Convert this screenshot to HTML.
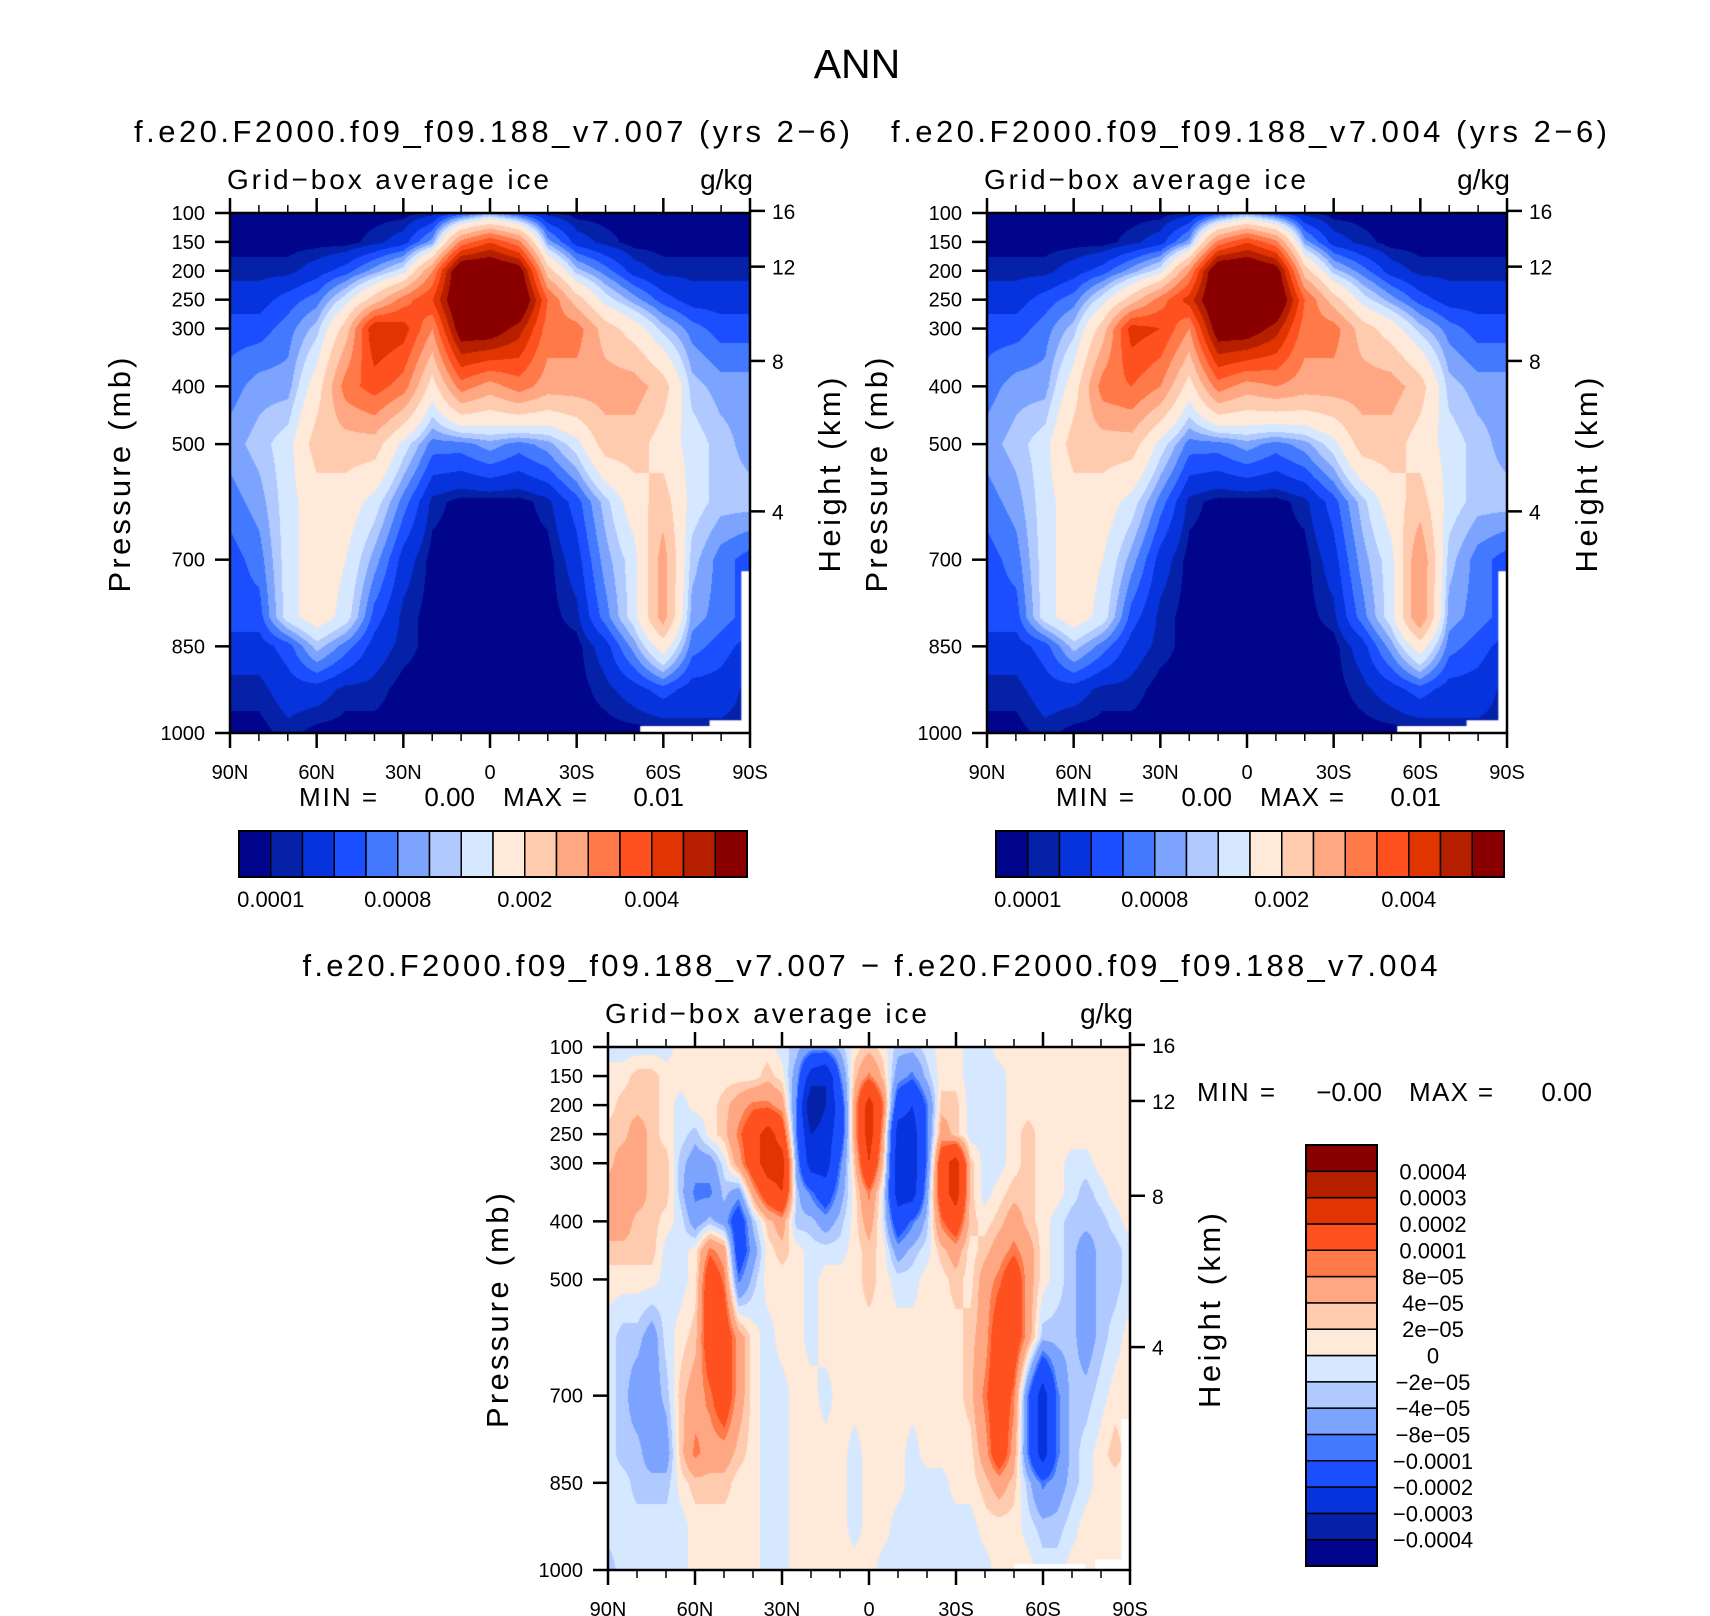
<!DOCTYPE html>
<html><head><meta charset="utf-8">
<style>
html,body{margin:0;padding:0;background:#fff;}
#wrap{position:relative;width:1710px;height:1616px;overflow:hidden;}
canvas{position:absolute;}
svg{position:absolute;left:0;top:0;}
text{font-family:"Liberation Sans",sans-serif;fill:#000;}
</style></head><body>
<div id="wrap">
<canvas id="c1" width="520" height="520" style="left:230px;top:213px"></canvas>
<canvas id="c2" width="520" height="520" style="left:987px;top:213px"></canvas>
<canvas id="c3" width="522" height="523" style="left:608px;top:1047px"></canvas>
<svg id="s" width="1710" height="1616"></svg>
</div>
<script>
// ---- data ----
const pLevels = [100,150,200,250,300,400,500,600,700,800,850,925,1000];
const lats10 = [90,80,70,60,50,40,30,20,10,0,-10,-20,-30,-40,-50,-60,-70,-80,-90];
// panel 1 values (units 1e-4 g/kg)
const ice007 = [
[0.5,0.5,0.5,0.5,0.5,0.5,0.5,1.5,5,9,5,1.5,0.5,0.5,0.5,0.5,0.5,0.5,0.5],
[0.5,0.5,0.5,0.5,0.5,1.5,3,9,32,40,32,9,3,1.5,0.5,0.5,0.5,0.5,0.5],
[1.5,1.5,1.5,3,5,9,13.5,30,60,60,55,22.5,11,7,3,1.5,1.5,1.5,1.5],
[3,3,5,7,13.5,22.5,32.5,40,60,60,60,35,22.5,13.5,9,5,3,3,3],
[5,5,7,11,22.5,45,42.5,30,55,55,47.5,32.5,32.5,22.5,17.5,11,7,5,5],
[7,9,9,17.5,32.5,37.5,32.5,17.5,32.5,27.5,32.5,27.5,27.5,27.5,27.5,22.5,11,9,9],
[9,11,13.5,22.5,22.5,22.5,13.5,7,7,9,7,9,13.5,22.5,22.5,17.5,13.5,11,9],
[7,9,13.5,17.5,17.5,13.5,7,1.5,0.5,0.5,0.5,1.5,5,11,17.5,22.5,13.5,11,11],
[5,7,13.5,17.5,15,9,3,0.5,0.5,0.5,0.5,0.5,3,9,13.5,27.5,11,7,5],
[5,5,13.5,17.5,13.5,5,1.5,0.5,0.5,0.5,0.5,0.5,1.5,7,13.5,27.5,9,7,5],
[3,3,5,11,7,3,1.5,0.5,0.5,0.5,0.5,0.5,0.5,3,9,17.5,7,5,3],
[1.5,1.5,3,3,1.5,1.5,0.5,0.5,0.5,0.5,0.5,0.5,0.5,1.5,3,5,3,3,1.5],
[0.5,0.5,1.5,0.5,0.5,0.5,0.5,0.5,0.5,0.5,0.5,0.5,0.5,0.5,0.5,0.5,1.5,1.5,1.5]];
// panel 2 values (units 1e-4 g/kg)
const ice004 = [
[0.5,0.5,0.5,0.5,0.5,0.5,0.5,1.5,5,9,5,1.5,0.5,0.5,0.5,0.5,0.5,0.5,0.5],
[0.5,0.5,0.5,0.5,0.5,1.5,3,9,32,40,32,9,3,1.5,0.5,0.5,0.5,0.5,0.5],
[1.5,1.5,1.5,3,5,9,13.5,30,60,60,55,22.5,11,7,3,1.5,1.5,1.5,1.5],
[3,3,5,7,13.5,22.5,32.5,42.5,60,60,60,35,22.5,13.5,9,5,3,3,3],
[5,5,7,11,22.5,42.5,40,30,55,55,47.5,32.5,32.5,22.5,17.5,11,7,5,5],
[7,9,9,17.5,32.5,35,30,17.5,32.5,27.5,30,27.5,27.5,27.5,27.5,22.5,11,9,9],
[9,11,13.5,22.5,22.5,22.5,13.5,7,7,9,7,9,13.5,22.5,22.5,17.5,13.5,11,9],
[7,9,13.5,17.5,17.5,13.5,7,1.5,0.5,0.5,0.5,1.5,5,11,17.5,22.5,13.5,11,11],
[5,7,13.5,17.5,15,9,3,0.5,0.5,0.5,0.5,0.5,3,9,13.5,30,11,7,5],
[5,5,13.5,17.5,13.5,5,1.5,0.5,0.5,0.5,0.5,0.5,1.5,7,13.5,30,9,7,5],
[3,3,5,11,7,3,1.5,0.5,0.5,0.5,0.5,0.5,0.5,3,9,17.5,7,5,3],
[1.5,1.5,3,3,1.5,1.5,0.5,0.5,0.5,0.5,0.5,0.5,0.5,1.5,3,5,3,3,1.5],
[0.5,0.5,1.5,0.5,0.5,0.5,0.5,0.5,0.5,0.5,0.5,0.5,0.5,0.5,0.5,0.5,1.5,1.5,1.5]];
const levels1 = [0.0001,0.0002,0.0004,0.0006,0.0008,0.001,0.0012,0.0015,0.002,0.0025,0.003,0.0035,0.004,0.0045,0.005];
const cbLabels1 = ["0.0001","0.0008","0.002","0.004"];
const cbLabelIdx1 = [0,4,8,12];
// difference panel (units 1e-5 g/kg)
const pDiff = [100,150,200,250,300,350,400,450,500,600,700,800,850,925,1000];
const lats5 = [90,85,80,75,70,65,60,55,50,45,40,35,30,25,20,15,10,5,0,-5,-10,-15,-20,-25,-30,-35,-40,-45,-50,-55,-60,-65,-70,-75,-80,-85,-90];
const diff = [
[-1,-1,-1,-1,-1,1,1,1,1,1,1,1,-1,-3,-6,-6,-3,1,3,1,-3,-3,-1,1,1,-1,-1,1,1,1,1,1,1,1,1,1,1],
[1,1,3,3,1,1,1,1,1,1,1,3,1,-6,-25,-30,-9,3,9,3,-6,-9,-3,1,1,-1,-1,-1,1,1,1,1,1,1,1,1,1],
[1,3,3,3,1,-1,1,1,3,6,9,9,6,-9,-40,-30,-15,6,25,9,-15,-20,-9,3,3,-1,-1,-1,1,1,1,1,1,1,1,1,1],
[3,3,6,3,1,-1,-3,1,3,9,15,25,15,-9,-30,-25,-15,6,25,6,-25,-25,-9,6,3,-1,-1,-1,1,3,1,1,1,1,1,1,1],
[3,6,6,3,3,-3,-6,-6,-1,6,15,25,25,-6,-25,-25,-9,3,20,3,-25,-25,-9,15,25,3,-1,-1,1,3,1,1,-1,-1,1,1,1],
[6,6,6,3,3,-3,-9,-9,-3,-6,6,15,20,-3,-9,-15,-6,1,9,-1,-25,-25,-6,15,25,3,-1,1,3,3,1,1,-1,-3,-1,1,1],
[6,6,3,3,1,-1,-6,-3,-6,-15,-3,3,6,-3,-3,-6,-3,1,6,-1,-15,-9,-3,9,15,3,1,3,6,3,1,-1,-3,-3,-3,-1,1],
[3,3,3,3,-1,-1,1,9,6,-15,-6,1,3,1,-1,-1,-1,1,3,1,-6,-3,-1,3,6,1,3,6,9,6,1,-1,-3,-6,-3,-3,-1],
[1,1,1,1,-1,-1,1,15,9,-9,-3,1,1,1,-1,1,1,1,3,1,-1,-1,1,1,3,1,6,9,15,6,1,-1,-3,-6,-3,-3,-1],
[-1,-3,-3,-6,-1,1,3,15,15,6,1,-1,1,1,-1,1,1,1,1,1,1,1,1,1,1,3,6,15,15,6,-3,-3,-3,-6,-3,-1,1],
[-1,-3,-6,-6,-3,3,6,9,15,6,1,-1,-1,1,1,-1,1,1,1,1,1,1,1,1,1,3,9,15,9,-9,-25,-9,-3,-3,-1,1,1],
[-1,-3,-3,-6,-6,3,9,6,6,3,1,-1,-1,1,1,1,1,-1,1,1,1,-1,1,1,1,1,6,15,6,-9,-25,-9,-3,-1,1,3,1],
[-1,-1,-3,-3,-3,1,3,3,3,1,1,-1,-1,1,1,1,1,-1,1,1,1,-1,-1,-1,1,1,3,6,3,-3,-9,-6,-3,-1,1,1,1],
[-1,-1,-1,-1,-1,-1,1,1,1,1,1,-1,-1,1,1,1,1,-1,1,1,-1,-1,-1,-1,-1,-1,1,1,1,-1,-3,-3,-1,1,1,1,1],
[-3,-1,-1,-1,-1,-1,1,1,1,1,1,-1,-1,1,1,1,1,1,1,-1,-1,-1,-1,-1,-1,-1,-1,1,1,1,-1,-1,1,1,1,1,1]];
const levels3 = [-0.0004,-0.0003,-0.0002,-0.0001,-8e-5,-4e-5,-2e-5,0,2e-5,4e-5,8e-5,0.0001,0.0002,0.0003,0.0004];
const cbLabels3 = ["-0.0004","-0.0003","-0.0002","-0.0001","-8e-05","-4e-05","-2e-05","0","2e-05","4e-05","8e-05","0.0001","0.0002","0.0003","0.0004"];
const pTicks = [100,150,200,250,300,400,500,700,850,1000];
const hTicks = [16,12,8,4];
const xLabels = ["90N","60N","30N","0","30S","60S","90S"];
const xLabelLats = [90,60,30,0,-30,-60,-90];
const colors = ["#00058C","#0421A8","#0633DC","#1B4EFF","#4279FF","#7CA4FF","#B0C9FF","#D6E8FF","#FFE9D8","#FFCBAF","#FFA782","#FF7949","#FF5020","#E03500","#B51F00","#8A0000"];

// ---- rendering ----
const NS="http://www.w3.org/2000/svg";
const svg=document.getElementById('s');
function hex(c){return [parseInt(c.slice(1,3),16),parseInt(c.slice(3,5),16),parseInt(c.slice(5,7),16)];}
const rgb=colors.map(hex);
function levelIdx(v,lv){let i=0;while(i<lv.length&&v>=lv[i])i++;return i;}
function interp(grid,pAxis,lats,lat,p,scale){
  let ci=(lats[0]-lat)/(lats[0]-lats[lats.length-1])*(lats.length-1);
  ci=Math.max(0,Math.min(lats.length-1.0001,ci));
  const c0=Math.floor(ci),fc=ci-c0;
  let r0=0;while(r0<pAxis.length-2&&p>pAxis[r0+1])r0++;
  let fr=(p-pAxis[r0])/(pAxis[r0+1]-pAxis[r0]);fr=Math.max(0,Math.min(1,fr));
  const g=(r,c)=>(grid[r]&&grid[r][c]!==undefined)?grid[r][c]:0;
  const a=g(r0,c0)*(1-fc)+g(r0,c0+1)*fc, b=g(r0+1,c0)*(1-fc)+g(r0+1,c0+1)*fc;
  return (a*(1-fr)+b*fr)*scale;
}
function drawField(id,grid,pAxis,lats,scale,lv){
  const cv=document.getElementById(id),ctx=cv.getContext('2d');
  const W=cv.width,H=cv.height,img=ctx.createImageData(W,H);
  for(let y=0;y<H;y++){const p=100+900*y/(H-1);
    for(let x=0;x<W;x++){const lat=90-180*x/(W-1);
      const v=interp(grid,pAxis,lats,lat,p,scale);const c=rgb[levelIdx(v,lv)];const k=(y*W+x)*4;
      img.data[k]=c[0];img.data[k+1]=c[1];img.data[k+2]=c[2];img.data[k+3]=255;}}
  ctx.putImageData(img,0,0);
}
drawField('c1',ice007,pLevels,lats10,1e-4,levels1);
drawField('c2',ice004,pLevels,lats10,1e-4,levels1);
drawField('c3',diff,pDiff,lats5,1e-5,levels3);
// below-ground white masks
(function(){
 const m=[['c1',[[-52,-76,988],[-76,-90,978],[-87,-90,720]]],['c2',[[-52,-76,988],[-76,-90,978],[-87,-90,720]]],['c3',[[-50,-74,990],[-78,-90,982],[-87,-90,740]]]];
 m.forEach(([id,rs])=>{const cv=document.getElementById(id),ctx=cv.getContext('2d');ctx.fillStyle='#fff';
  rs.forEach(r=>{const x0=(90-r[0])/180*cv.width,x1=(90-r[1])/180*cv.width,y0=(r[2]-100)/900*cv.height;ctx.fillRect(x0,y0,x1-x0+2,cv.height-y0);});});
})();

function el(tag,attrs,name,parent){const e=document.createElementNS(NS,tag);for(const k in attrs)e.setAttribute(k,attrs[k]);
  
  
  (parent||svg).appendChild(e);return e;}
function txt(s,x,y,size,anchor,name,extra){const t=el('text',Object.assign({x:x,y:y,'font-size':size,'text-anchor':anchor||'start'},extra||{}),name);t.textContent=s;return t;}
function hOfP(h){return 1013.25*Math.pow(1-2.25577e-5*h*1000,5.2559);}

function axes(L,T,W,H,pfx){
  const g=el('g',{},pfx+'-axes');
  const X=lat=>L+(90-lat)/180*W, Y=p=>T+(p-100)/900*H;
  el('rect',{x:L,y:T,width:W,height:H,fill:'none',stroke:'#000','stroke-width':2.5},pfx+'-frame',g);
  for(let lat=90;lat>=-90;lat-=10){const major=lat%30===0;const len=major?15:8;const x=X(lat);
    el('line',{x1:x,y1:T,x2:x,y2:T-len,stroke:'#000','stroke-width':major?2.5:1.5},pfx+'-top-tick',g);
    el('line',{x1:x,y1:T+H,x2:x,y2:T+H+len,stroke:'#000','stroke-width':major?2.5:1.5},pfx+'-bottom-tick',g);}
  xLabels.forEach((s,i)=>txt(s,X(xLabelLats[i]),T+H+46,20,'middle',pfx+'-x-tick-label'));
  pTicks.forEach(p=>{el('line',{x1:L,y1:Y(p),x2:L-15,y2:Y(p),stroke:'#000','stroke-width':2.5},pfx+'-y-tick',g);
    txt(String(p),L-25,Y(p)+7,20,'end',pfx+'-y-tick-label');});
  hTicks.forEach(h=>{const y=Y(hOfP(h));el('line',{x1:L+W,y1:y,x2:L+W+15,y2:y,stroke:'#000','stroke-width':2.5},pfx+'-height-tick',g);
    txt(String(h),L+W+22,y+8,21,'start',pfx+'-height-tick-label');});
  txt('Pressure (mb)',0,0,31,'middle',pfx+'-y-axis-title',{transform:`translate(${L-100},${T+H/2+2}) rotate(-90)`,textLength:235,lengthAdjust:'spacing'});
  txt('Height (km)',0,0,31,'middle',pfx+'-height-axis-title',{transform:`translate(${L+W+90},${T+H/2+2}) rotate(-90)`,textLength:195,lengthAdjust:'spacing'});
  txt('Grid\u2212box average ice',L-3,T-24,28,'start',pfx+'-variable-label',{textLength:322,lengthAdjust:'spacing'});
  txt('g/kg',L+W+3,T-24,28,'end',pfx+'-units-label');
}
txt('ANN',857,78,41,'middle','main-title');
axes(230,213,520,520,'panel1');
axes(987,213,520,520,'panel2');
axes(608,1047,522,523,'diff');
txt('f.e20.F2000.f09_f09.188_v7.007 (yrs 2\u22126)',492,142,31,'middle','panel1-title',{textLength:716,lengthAdjust:'spacing'});
txt('f.e20.F2000.f09_f09.188_v7.004 (yrs 2\u22126)',1249,142,31,'middle','panel2-title',{textLength:716,lengthAdjust:'spacing'});
txt('f.e20.F2000.f09_f09.188_v7.007 \u2212 f.e20.F2000.f09_f09.188_v7.004',870,976,31,'middle','diff-title',{textLength:1135,lengthAdjust:'spacing'});
function minmax(x0,y,mn,mx,pfx){
  txt('MIN =',x0,y,26,'start',pfx+'-min-label',{textLength:78,lengthAdjust:'spacing'});
  txt(mn,x0+176,y,26,'end',pfx+'-min-value');
  txt('MAX =',x0+204,y,26,'start',pfx+'-max-label',{textLength:84,lengthAdjust:'spacing'});
  txt(mx,x0+385,y,26,'end',pfx+'-max-value');
}
minmax(299,806,'0.00','0.01','panel1');
minmax(1056,806,'0.00','0.01','panel2');
txt('MIN =',1197,1101,26,'start','diff-min-label',{textLength:78,lengthAdjust:'spacing'});
txt('\u22120.00',1382,1101,26,'end','diff-min-value');
txt('MAX =',1409,1101,26,'start','diff-max-label',{textLength:84,lengthAdjust:'spacing'});
txt('0.00',1592,1101,26,'end','diff-max-value');
// horizontal colorbars
function hbar(L,T,W,H,pfx){const n=colors.length,bw=W/n;
  colors.forEach((c,i)=>el('rect',{x:L+i*bw,y:T,width:bw,height:H,fill:c,stroke:'#000','stroke-width':1.5},pfx+'-colorbar-box'));
  el('rect',{x:L,y:T,width:W,height:H,fill:'none',stroke:'#000','stroke-width':2},pfx+'-colorbar-frame');
  cbLabels1.forEach((s,i)=>txt(s,L+(cbLabelIdx1[i]+1)*bw,T+H+30,22,'middle',pfx+'-colorbar-label'));}
hbar(239,831,508,46,'panel1');
hbar(996,831,508,46,'panel2');
// vertical colorbar
(function(){const L=1306,T=1145,W=71,H=421,n=colors.length,bh=H/n;
  colors.forEach((c,i)=>el('rect',{x:L,y:T+H-(i+1)*bh,width:W,height:bh,fill:c,stroke:'#000','stroke-width':1.5},'diff-colorbar-box'));
  el('rect',{x:L,y:T,width:W,height:H,fill:'none',stroke:'#000','stroke-width':2},'diff-colorbar-frame');
  cbLabels3.forEach((s,i)=>txt(s.replace(/-/g,'\u2212'),1433,T+H-(i+1)*bh+8,22,'middle','diff-colorbar-label'));
})();
</script>
</body></html>
